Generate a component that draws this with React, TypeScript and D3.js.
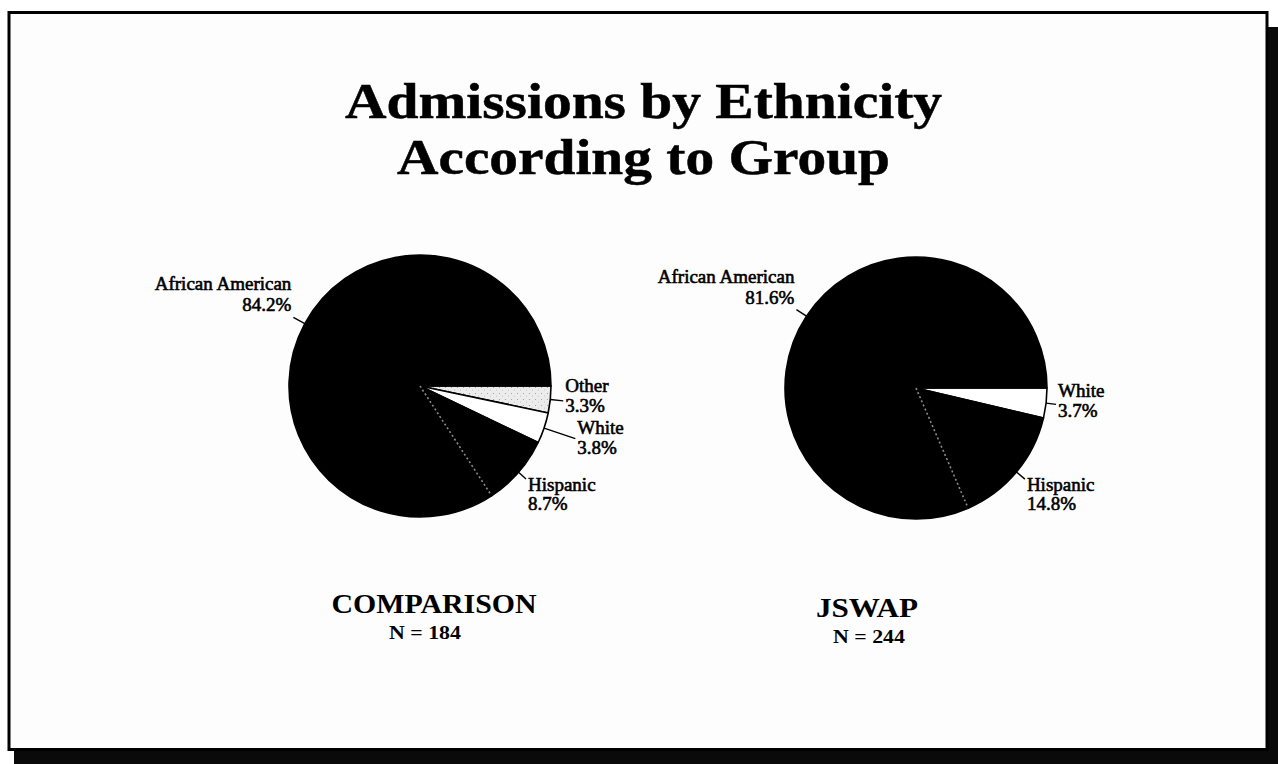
import React from "react";
import * as d3 from "d3";

// ---- data ----
const comparisonLabels = ["Other", "White", "Hispanic", "African American"];
const comparisonValues = [3.3, 3.8, 8.7, 84.2];
const jswapLabels = ["White", "Hispanic", "African American"];
const jswapValues = [3.7, 14.8, 81.6];
const groupNames = ["COMPARISON", "JSWAP"];
const groupN = [184, 244];
const titleLines = ["Admissions by Ethnicity", "According to Group"];

// ---- layout / style ----
const W = 1278;
const H = 764;
const sliceColors: Record<string, string> = {
  "African American": "#000000",
  Hispanic: "#000000",
  White: "#ffffff",
  Other: "#e8e8e8",
};
const groupLayout = [
  { cx: 420, cy: 386, r: 131, leaders: [13, 33, 10, 13], shifts: [-2, 2, 0, 0], nameX: 434, nameY: 613, nameW: 205, nX: 425, nY: 639 },
  { cx: 916, cy: 388, r: 131, leaders: [10, 11, 12], shifts: [0, 0, 0], nameX: 867, nameY: 617, nameW: 102, nX: 869, nY: 643 },
];
const serif = "'Liberation Serif', 'Times New Roman', Times, serif";

type Datum = { label: string; value: number };

function Pie({ data, layout }: { data: Datum[]; layout: typeof groupLayout[number] }) {
  const pie = d3
    .pie<Datum>()
    .sort(null)
    .value((d) => d.value)
    .startAngle(Math.PI / 2)
    .endAngle(Math.PI / 2 + 2 * Math.PI);
  const arcs = pie(data);
  const arc = d3.arc<d3.PieArcDatum<Datum>>().innerRadius(0).outerRadius(layout.r);
  const { cx, cy, r } = layout;
  const hisp = arcs.find((a) => a.data.label === "Hispanic");
  return (
    <g>
      <g transform={`translate(${cx},${cy})`}>
        {arcs.map((a, i) => (
          <path
            key={i}
            d={arc(a) || ""}
            fill={a.data.label === "Other" ? "url(#speckle)" : sliceColors[a.data.label]}
            stroke="#000"
            strokeWidth={1.6}
            strokeLinejoin="round"
          />
        ))}
        {hisp && (
          <line
            x1={0}
            y1={0}
            x2={(r - 2) * Math.sin(hisp.endAngle)}
            y2={-(r - 2) * Math.cos(hisp.endAngle)}
            stroke="#8a8a8a"
            strokeWidth={1.6}
            strokeDasharray="2 2.5"
          />
        )}
      </g>
      {arcs.map((a, i) => {
        const mid = (a.startAngle + a.endAngle) / 2;
        const dx = Math.sin(mid);
        const dy = -Math.cos(mid);
        const x0 = cx + r * dx;
        const y0 = cy + r * dy;
        const len = layout.leaders[i];
        const x1 = x0 + len * dx;
        const y1 = y0 + len * dy;
        const anchor = dx >= 0 ? "start" : "end";
        const tx = x1 + (dx >= 0 ? 2 : -2);
        const s = layout.shifts[i];
        let b1: number, b2: number;
        if (dy > 0.5) {
          b1 = y1 + 12;
          b2 = y1 + 31;
        } else if (dy < -0.3) {
          b2 = y1 - 6;
          b1 = b2 - 21;
        } else {
          b1 = y1 - 7;
          b2 = y1 + 13;
        }
        return (
          <g key={"l" + i}>
            <line x1={x0} y1={y0} x2={x1} y2={y1} stroke="#000" strokeWidth={1.4} />
            <text
              x={tx}
              textAnchor={anchor}
              fontFamily={serif}
              fontSize={19}
              fill="#000"
              stroke="#000"
              strokeWidth={0.6}
            >
              <tspan x={tx} y={b1 + s}>
                {a.data.label}
              </tspan>
              <tspan x={tx} y={b2 + s}>
                {a.data.value.toFixed(1)}%
              </tspan>
            </text>
          </g>
        );
      })}
    </g>
  );
}

export default function App() {
  const groups: Datum[][] = [
    comparisonLabels.map((l, i) => ({ label: l, value: comparisonValues[i] })),
    jswapLabels.map((l, i) => ({ label: l, value: jswapValues[i] })),
  ];
  return (
    <div style={{ position: "absolute", left: 0, top: 0 }}>
      <svg width={W} height={H} viewBox={`0 0 ${W} ${H}`} style={{ display: "block", background: "#fff" }}>
        <defs>
          <pattern id="speckle" width="6" height="6" patternUnits="userSpaceOnUse">
            <rect width="6" height="6" fill="#ececec" />
            <circle cx="1.5" cy="1.5" r="0.6" fill="#9a9a9a" />
            <circle cx="4.5" cy="4" r="0.5" fill="#b5b5b5" />
          </pattern>
        </defs>
        {/* shadow */}
        <rect x={1267} y={27} width={11} height={737} fill="#0a0a0a" />
        <rect x={14} y={749} width={1264} height={15} fill="#0a0a0a" />
        {/* frame */}
        <rect x={9} y={12.5} width={1258} height={737} fill="#fdfdfd" stroke="#000" strokeWidth={3} />

        {/* title */}
        <text
          x={643.5}
          y={118}
          textAnchor="middle"
          fontFamily={serif}
          fontWeight="bold"
          fontSize={50}
          textLength={597}
          lengthAdjust="spacingAndGlyphs"
          fill="#000"
          stroke="#000"
          strokeWidth={0.5}
        >
          {titleLines[0]}
        </text>
        <text
          x={643.5}
          y={174}
          textAnchor="middle"
          fontFamily={serif}
          fontWeight="bold"
          fontSize={50}
          textLength={493}
          lengthAdjust="spacingAndGlyphs"
          fill="#000"
          stroke="#000"
          strokeWidth={0.5}
        >
          {titleLines[1]}
        </text>

        {groups.map((g, gi) => {
          const L = groupLayout[gi];
          return (
            <g key={gi}>
              <Pie data={g} layout={L} />
              <text
                x={L.nameX}
                y={L.nameY}
                textAnchor="middle"
                fontFamily={serif}
                fontWeight="bold"
                fontSize={28}
                textLength={L.nameW}
                lengthAdjust="spacingAndGlyphs"
                fill="#000"
              >
                {groupNames[gi]}
              </text>
              <text
                x={L.nX}
                y={L.nY}
                textAnchor="middle"
                fontFamily={serif}
                fontWeight="bold"
                fontSize={19}
                textLength={72}
                lengthAdjust="spacingAndGlyphs"
                fill="#000"
              >
                {`N = ${groupN[gi]}`}
              </text>
            </g>
          );
        })}
      </svg>
    </div>
  );
}
